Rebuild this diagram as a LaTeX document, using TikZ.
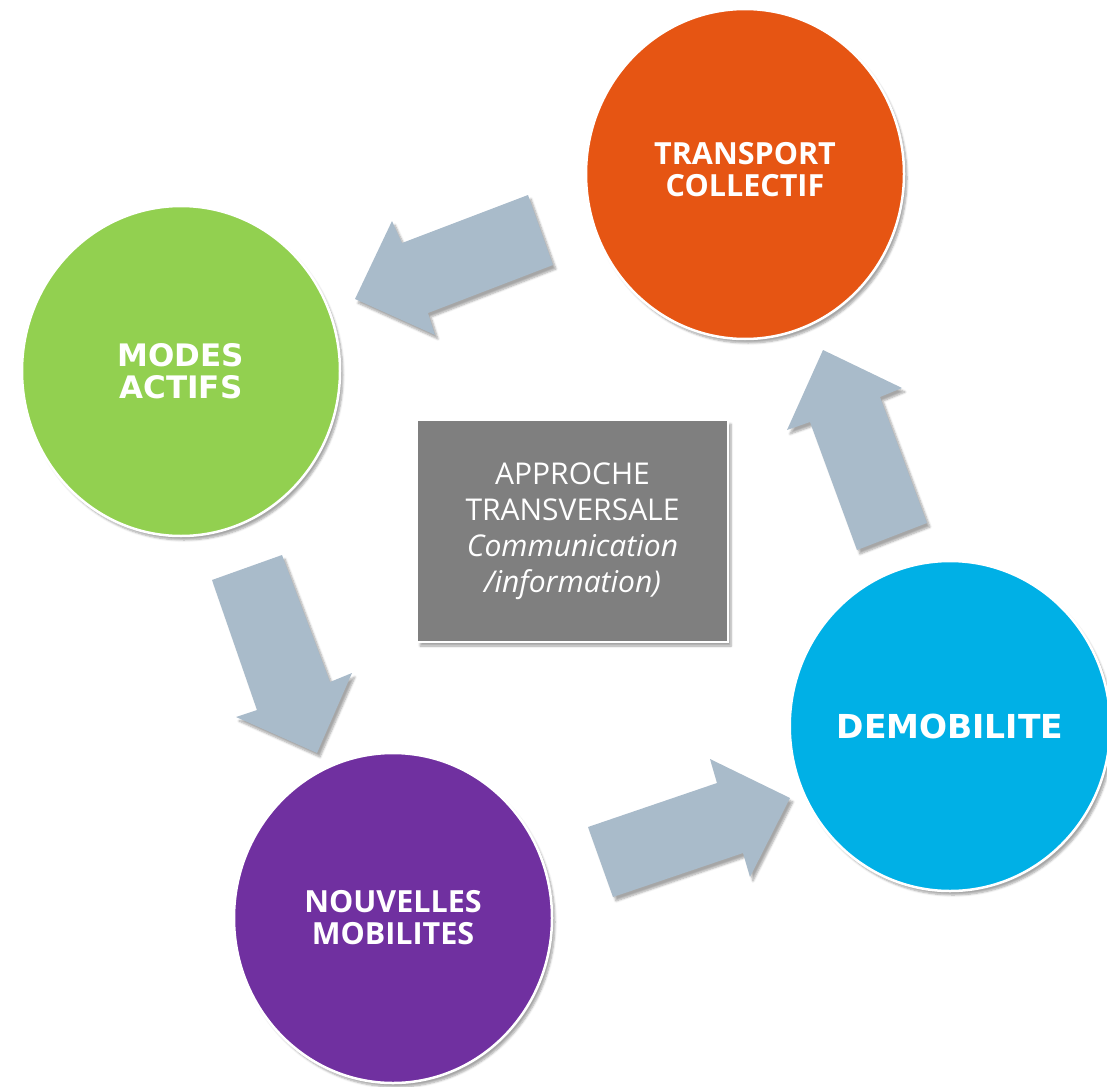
\documentclass[tikz,border=0pt]{standalone}
\usepackage{fontspec}
\setmainfont{Open Sans}
\newfontfamily\verd{DejaVu Sans}
\newfontfamily\segb{Open Sans}
\usetikzlibrary{shapes.geometric,shadows.blur}
\definecolor{corange}{HTML}{E65513}
\definecolor{cgreen}{HTML}{92D050}
\definecolor{cblue}{HTML}{00B0E6}
\definecolor{cpurple}{HTML}{7030A0}
\definecolor{carrow}{HTML}{A9BBCA}
\definecolor{cbox}{HTML}{7F7F7F}
\tikzset{
  bubble/.style={ellipse, minimum width=318pt, minimum height=330pt, inner sep=0pt,
    draw=white, line width=2.5pt, text=white, align=center,
    blur shadow={shadow xshift=3pt, shadow yshift=-4pt, shadow opacity=35, shadow blur steps=6}},
  blockarrow/.style={fill=carrow,
    blur shadow={shadow xshift=3pt, shadow yshift=-4pt, shadow opacity=35, shadow blur steps=6}},
  centerbox/.style={rectangle, fill=cbox, draw=white, line width=2pt, text=white, align=center,
    minimum width=311pt, minimum height=222pt, inner sep=0pt,
    blur shadow={shadow xshift=3pt, shadow yshift=-4pt, shadow opacity=35, shadow blur steps=6}},
  vlabel/.style={font=\verd\bfseries\fontsize{31}{32}\selectfont},
  slabel/.style={font=\segb\bfseries\fontsize{30.5}{32}\selectfont, text=white, align=center}
}
\begin{document}
\begin{tikzpicture}[x=1pt,y=-1pt]
\useasboundingbox (0,0) rectangle (1107,1086);
% block arrows
\fill[blockarrow] (528,195) -- (402,243) -- (392,221) -- (355,299) -- (435,335) -- (428,313) -- (553,265) -- cycle;
\fill[blockarrow] (212,580) -- (282,555) -- (330,682) -- (352,673) -- (317,753) -- (236,717) -- (257,710) -- cycle;
\fill[blockarrow] (588,827) -- (717,783) -- (710,759) -- (790,798) -- (750,877) -- (743,853) -- (613,897) -- cycle;
\fill[blockarrow] (857,550) -- (810,422) -- (787,430) -- (823,350) -- (902,388) -- (880,397) -- (927,523) -- cycle;
% circles
\node[bubble, fill=corange] (tc) at (745,174) {};
\node[slabel] (tctext) at (745,170) {TRANSPORT\\COLLECTIF};
\node[bubble, fill=cgreen, vlabel] (ma) at (181,371) {MODES\\ACTIFS};
\node[bubble, fill=cblue, vlabel, font=\verd\bfseries\fontsize{33}{36}\selectfont] (dm) at (950,726) {DEMOBILITE};
\node[bubble, fill=cpurple, slabel] (nm) at (393,918) {NOUVELLES\\MOBILITES};
% center box
\node[centerbox, font=\fontsize{30}{36}\selectfont] (ctr) at (572.5,531) {APPROCHE\\TRANSVERSALE\\\textit{Communication}\\\textit{/information)}};
\end{tikzpicture}
\end{document}
